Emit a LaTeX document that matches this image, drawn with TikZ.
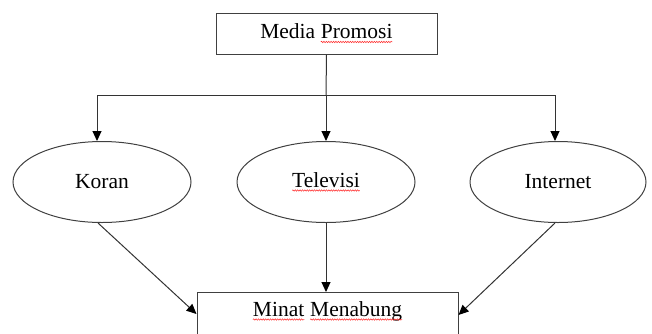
\documentclass[tikz,border=0pt]{standalone}
\usepackage{fontspec}
\setmainfont{Liberation Serif}
\usetikzlibrary{arrows.meta,shapes.geometric,decorations.pathmorphing}
\newcommand\redsq[1]{\tikz[baseline=(w.base),x=1pt,y=1pt]{\node[shape=rectangle,draw=none,fill=none,inner sep=0pt,outer sep=0pt,minimum size=0pt](w){#1};\draw[red!85,line width=0.5pt,decorate,decoration={snake,amplitude=0.7pt,segment length=2.4pt}] ([yshift=-3pt]w.base west) -- ([yshift=-3pt]w.base east);}}
\tikzset{
  lbl/.style={font=\fontsize{21.5}{24}\selectfont, text=black},
  boxnode/.style={lbl, draw=black!75, line width=1pt, fill=white, inner sep=0pt},
  ellnode/.style={lbl, ellipse, draw=black!75, line width=1pt, inner sep=0pt, minimum height=81pt},
  conn/.style={draw=black!80, line width=1pt},
  arr/.style={conn, -{Triangle[length=10pt,width=9pt,color=black]}}
}
\begin{document}
\begin{tikzpicture}[x=1pt,y=-1pt]
\useasboundingbox (0,0) rectangle (652,333);
\clip (0,0) rectangle (652,333);
\node[boxnode, minimum width=221pt, minimum height=41pt] (media) at (326.5,33.5) {Media \redsq{Promosi}};
\node[ellnode, minimum width=178pt] (koran) at (102,182) {Koran};
\node[ellnode, minimum width=178pt] (televisi) at (326,182) {\redsq{Televisi}};
\node[ellnode, minimum width=176pt] (internet) at (558,182) {Internet};
\node[boxnode, anchor=north, minimum width=261pt, text height=24pt, text depth=40pt] (minat) at (327.5,292) {\redsq{Minat} \redsq{Menabung}};
\coordinate (j) at (326,95);
\coordinate (jl) at (97,95);
\coordinate (jr) at (555,95);
\draw[conn] (media.south) -- (j);
\draw[conn] (jl) -- (jr);
\draw[arr] (jl) -- (jl |- koran.north);
\draw[arr] (j) -- (televisi.north);
\draw[arr] (jr) -- (jr |- internet.north);
\draw[arr] ([xshift=-4pt]koran.south) -- ([yshift=-22pt]minat.north west);
\draw[arr] (televisi.south) -- (televisi.south |- minat.north);
\draw[arr] ([xshift=-3pt]internet.south) -- ([yshift=-23pt]minat.north east);
\end{tikzpicture}
\end{document}
